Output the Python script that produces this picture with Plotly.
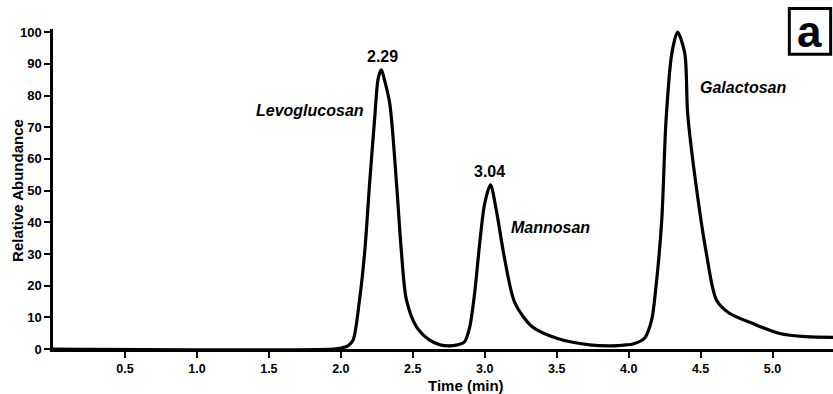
import plotly.graph_objects as go

# Chromatogram trace
time_min = [0, 1.95, 2.01, 2.05, 2.085, 2.13, 2.167, 2.20, 2.236, 2.26, 2.282, 2.30, 2.34, 2.387, 2.42,
            2.456, 2.526, 2.618, 2.69, 2.75, 2.81, 2.86, 2.896, 2.93, 2.965, 3.0, 3.04, 3.08, 3.14,
            3.21, 3.33, 3.50, 3.73, 3.88, 3.98, 4.03, 4.11, 4.16, 4.19, 4.23, 4.26, 4.30, 4.34,
            4.39, 4.41, 4.47, 4.54, 4.61, 4.70, 4.86, 5.05, 5.23, 5.42]
abundance = [0, 0, 0.4, 1.0, 2.8, 15.5, 31.2, 52.3, 73.3, 85.5, 88.1, 85.5, 77.5, 52.3, 31.2,
             15.5, 7.0, 2.8, 1.3, 1.0, 1.3, 2.3, 7.0, 17.7, 33.4, 46.0, 51.8, 43.9, 28.0,
             14.5, 7.0, 3.4, 1.3, 1.0, 1.3, 1.6, 3.4, 9.2, 19.7, 40.7, 72.3, 93.3, 100,
             93.3, 74.4, 51.2, 30.2, 15.5, 11.3, 8.1, 4.9, 3.9, 3.7]

x_ticks = [0.5, 1.0, 1.5, 2.0, 2.5, 3.0, 3.5, 4.0, 4.5, 5.0]
x_tick_labels = ["0.5", "1.0", "1.5", "2.0", "2.5", "3.0", "3.5", "4.0", "4.5", "5.0"]
y_ticks = [0, 10, 20, 30, 40, 50, 60, 70, 80, 90, 100]

peak_labels = ["2.29", "3.04", "4.36"]
peak_label_x = [2.29, 3.035, 4.33]
peak_label_y = [92.2, 55.9, 104.5]

compound_names = ["Levoglucosan", "Mannosan", "Galactosan"]
compound_x = [1.785, 3.46, 4.795]
compound_y = [75.4, 38.2, 82.5]

FONT = "Liberation Sans, Arial, sans-serif"

fig = go.Figure()
fig.add_trace(go.Scatter(x=time_min, y=abundance, mode="lines",
                         line=dict(color="black", width=3.2, shape="spline", smoothing=0.8),
                         hoverinfo="skip", cliponaxis=False))

annotations = []
for t, x, y in zip(peak_labels, peak_label_x, peak_label_y):
    annotations.append(dict(x=x, y=y, xref="x", yref="y", text=f"<b>{t}</b>", showarrow=False,
                            xanchor="center", yanchor="middle",
                            font=dict(family=FONT, size=16, color="black")))
for t, x, y in zip(compound_names, compound_x, compound_y):
    annotations.append(dict(x=x, y=y, xref="x", yref="y", text=f"<b><i>{t}</i></b>", showarrow=False,
                            xanchor="center", yanchor="middle",
                            font=dict(family=FONT, size=16, color="black")))
annotations.append(dict(x=-0.0449, y=0.497, xref="paper", yref="paper", text="<b>Relative Abundance</b>",
                        textangle=-90, showarrow=False, xanchor="center", yanchor="middle",
                        font=dict(family=FONT, size=15, color="black")))
annotations.append(dict(x=0.5295, y=-0.1125, xref="paper", yref="paper", text="<b>Time (min)</b>",
                        showarrow=False, xanchor="center", yanchor="middle",
                        font=dict(family=FONT, size=15, color="black")))
annotations.append(dict(x=0.9705, y=0.9925, xref="paper", yref="paper", text="<b>a</b>",
                        showarrow=False, xanchor="center", yanchor="middle",
                        font=dict(family=FONT, size=44, color="black")))

fig.update_layout(
    width=833, height=394,
    margin=dict(l=53, r=0, t=29, b=45),
    paper_bgcolor="white", plot_bgcolor="white",
    showlegend=False,
    annotations=annotations,
    shapes=[dict(type="rect", xref="paper", yref="paper", x0=0.944, x1=0.997, y0=0.921, y1=1.064,
                 line=dict(color="black", width=3), fillcolor="rgba(0,0,0,0)")],
    xaxis=dict(range=[0, 5.42], tickvals=x_ticks, ticktext=[f"<b>{t}</b>" for t in x_tick_labels],
               showgrid=False, zeroline=False, showline=True, linecolor="black", linewidth=2.5,
               ticks="outside", ticklen=6, tickwidth=2, tickcolor="black",
               tickfont=dict(family=FONT, size=12.5, color="black")),
    yaxis=dict(range=[0, 101], tickvals=y_ticks, ticktext=[f"<b>{t}</b>" for t in y_ticks],
               showgrid=False, zeroline=False, showline=True, linecolor="black", linewidth=2.5,
               ticks="outside", ticklen=6, tickwidth=2, tickcolor="black",
               tickfont=dict(family=FONT, size=13, color="black")),
)

fig.write_html("out.html", config={"displayModeBar": False})

# remove default page margin so the figure sits at the window's top-left corner
with open("out.html", "r", encoding="utf-8") as f:
    html = f.read()
html = html.replace("<head>", "<head><style>html,body{margin:0;padding:0;overflow:hidden;}</style>", 1)
with open("out.html", "w", encoding="utf-8") as f:
    f.write(html)
